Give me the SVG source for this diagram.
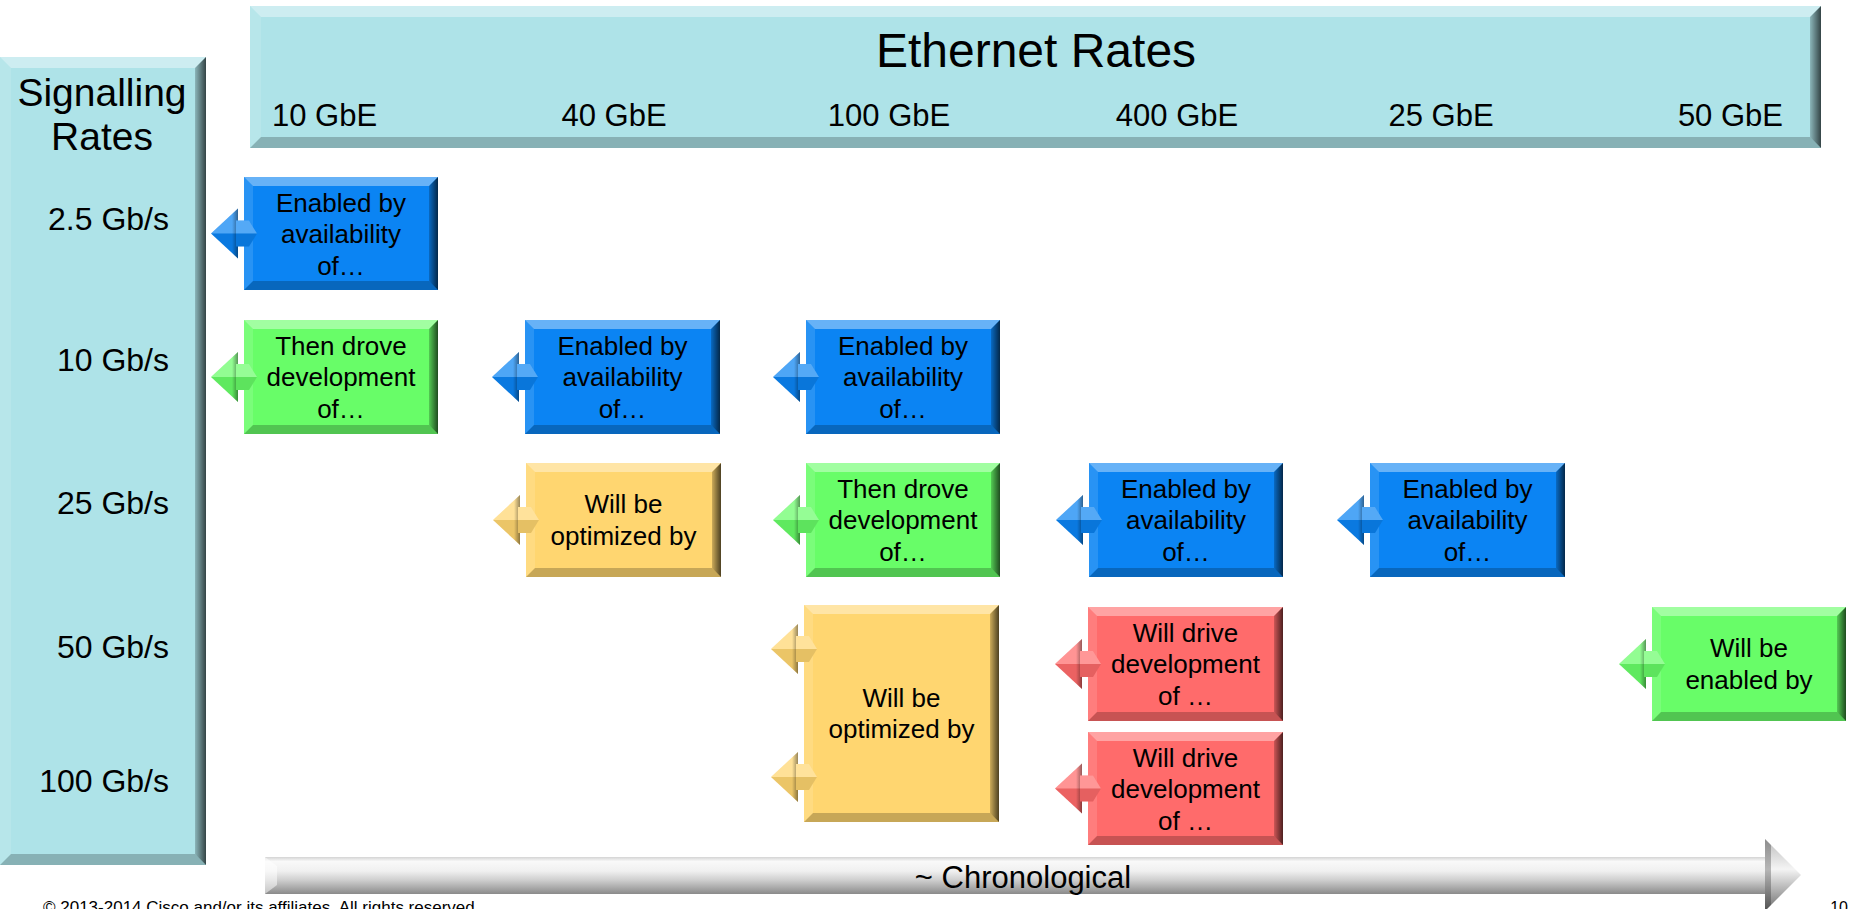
<svg xmlns="http://www.w3.org/2000/svg" xmlns:xlink="http://www.w3.org/1999/xlink" width="1861" height="909" viewBox="0 0 1861 909">
<style>
text { font-family: "Liberation Sans", Arial, sans-serif; fill: #000; }
.bt { fill: #fff; fill-opacity: .38; }
.bl { fill: #fff; fill-opacity: .12; }
.bb { fill: #000; fill-opacity: .22; }
.br { fill: url(#gr); }
.blue { fill: #0B84F3; }
.green { fill: #68FD68; }
.yellow { fill: #FFD670; }
.red { fill: #FF6B6B; }
.cyan { fill: #AEE3E8; }
.bx { font-size: 26px; text-anchor: middle; }
.col { font-size: 31px; }
.row { font-size: 32px; text-anchor: end; }
</style>
<defs>
<linearGradient id="gr" x1="0" y1="0" x2="1" y2="0">
<stop offset="0" stop-color="#000" stop-opacity=".2"/>
<stop offset="1" stop-color="#000" stop-opacity=".7"/>
</linearGradient>
<linearGradient id="gs" x1="0" y1="0" x2="0" y2="1">
<stop offset="0" stop-color="#d4d4d4"/>
<stop offset=".12" stop-color="#f9f9f9"/>
<stop offset=".38" stop-color="#f0f0f0"/>
<stop offset=".62" stop-color="#cfcfcf"/>
<stop offset=".85" stop-color="#a6a6a6"/>
<stop offset="1" stop-color="#8a8a8a"/>
</linearGradient>
<linearGradient id="gh" x1="0" y1="0" x2="0" y2="1">
<stop offset="0" stop-color="#bdbdbd"/>
<stop offset=".42" stop-color="#f4f4f4"/>
<stop offset=".55" stop-color="#d6d6d6"/>
<stop offset="1" stop-color="#6e6e6e"/>
</linearGradient>
<linearGradient id="gd" x1="0" y1="0" x2="1" y2="0">
<stop offset="0" stop-color="#000" stop-opacity="0"/>
<stop offset="1" stop-color="#000" stop-opacity=".4"/>
</linearGradient>
<g id="arr">
<polygon points="-33,0 -6,-25 -6,25" fill="currentColor"/>
<polygon points="-33,0 -6,-25 -6,0" fill="#fff" fill-opacity=".28"/>
<polygon points="-33,0 -6,0 -6,25" fill="#000" fill-opacity=".08"/>
<polygon points="-12,-19.5 -6,-25 -6,25 -12,19.5" fill="url(#gd)"/>
<polygon points="-8,-13 5,-13 13,0 5,13 -8,13" fill="currentColor"/>
<polygon points="-8,-13 5,-13 13,0 -8,0" fill="#fff" fill-opacity=".3"/>
<polygon points="-8,0 13,0 5,13 -8,13" fill="#000" fill-opacity=".1"/>
</g>
</defs>
<rect x="0" y="0" width="1861" height="909" fill="#fff"/>

<g id="signalling">
<rect class="cyan" x="0" y="57" width="206" height="808"/>
<polygon class="bt" points="0,57 206,57 195,68 11,68"/>
<polygon class="bb" points="0,865 206,865 195,854 11,854"/>
<polygon class="bl" points="0,57 11,68 11,854 0,865"/>
<polygon class="br" points="206,57 195,68 195,854 206,865"/>
<text x="102" y="106" font-size="39" text-anchor="middle">Signalling</text>
<text x="102" y="150" font-size="39" text-anchor="middle">Rates</text>
<text class="row" x="169" y="230">2.5 Gb/s</text>
<text class="row" x="169" y="371">10 Gb/s</text>
<text class="row" x="169" y="514">25 Gb/s</text>
<text class="row" x="169" y="658">50 Gb/s</text>
<text class="row" x="169" y="792">100 Gb/s</text>
</g>

<g id="ethernet">
<rect class="cyan" x="250" y="6" width="1571" height="142"/>
<polygon class="bt" points="250,6 1821,6 1810,17 261,17"/>
<polygon class="bb" points="250,148 1821,148 1810,137 261,137"/>
<polygon class="bl" points="250,6 261,17 261,137 250,148"/>
<polygon class="br" points="1821,6 1810,17 1810,137 1821,148"/>
<text x="1036" y="67" font-size="48" text-anchor="middle">Ethernet Rates</text>
<text class="col" x="272" y="126">10 GbE</text>
<text class="col" x="614" y="126" text-anchor="middle">40 GbE</text>
<text class="col" x="889" y="126" text-anchor="middle">100 GbE</text>
<text class="col" x="1177" y="126" text-anchor="middle">400 GbE</text>
<text class="col" x="1441" y="126" text-anchor="middle">25 GbE</text>
<text class="col" x="1783" y="126" text-anchor="end">50 GbE</text>
</g>

<g id="n1">
<rect class="blue" x="244" y="177" width="194" height="113"/>
<polygon class="bt" points="244,177 438,177 429,186 253,186"/>
<polygon class="bb" points="244,290 438,290 429,281 253,281"/>
<polygon class="bl" points="244,177 253,186 253,281 244,290"/>
<polygon class="br" points="438,177 429,186 429,281 438,290"/>
<text class="bx" x="341" y="212">Enabled by</text>
<text class="bx" x="341" y="243">availability</text>
<text class="bx" x="341" y="275">of…</text>
</g>

<g id="n2">
<rect class="green" x="244" y="320" width="194" height="114"/>
<polygon class="bt" points="244,320 438,320 429,329 253,329"/>
<polygon class="bb" points="244,434 438,434 429,425 253,425"/>
<polygon class="bl" points="244,320 253,329 253,425 244,434"/>
<polygon class="br" points="438,320 429,329 429,425 438,434"/>
<text class="bx" x="341" y="355">Then drove</text>
<text class="bx" x="341" y="386">development</text>
<text class="bx" x="341" y="418">of…</text>
</g>

<g id="n3">
<rect class="blue" x="525" y="320" width="195" height="114"/>
<polygon class="bt" points="525,320 720,320 711,329 534,329"/>
<polygon class="bb" points="525,434 720,434 711,425 534,425"/>
<polygon class="bl" points="525,320 534,329 534,425 525,434"/>
<polygon class="br" points="720,320 711,329 711,425 720,434"/>
<text class="bx" x="622.5" y="355">Enabled by</text>
<text class="bx" x="622.5" y="386">availability</text>
<text class="bx" x="622.5" y="418">of…</text>
</g>

<g id="n4">
<rect class="blue" x="806" y="320" width="194" height="114"/>
<polygon class="bt" points="806,320 1000,320 991,329 815,329"/>
<polygon class="bb" points="806,434 1000,434 991,425 815,425"/>
<polygon class="bl" points="806,320 815,329 815,425 806,434"/>
<polygon class="br" points="1000,320 991,329 991,425 1000,434"/>
<text class="bx" x="903" y="355">Enabled by</text>
<text class="bx" x="903" y="386">availability</text>
<text class="bx" x="903" y="418">of…</text>
</g>

<g id="n5">
<rect class="yellow" x="526" y="463" width="195" height="114"/>
<polygon class="bt" points="526,463 721,463 712,472 535,472"/>
<polygon class="bb" points="526,577 721,577 712,568 535,568"/>
<polygon class="bl" points="526,463 535,472 535,568 526,577"/>
<polygon class="br" points="721,463 712,472 712,568 721,577"/>
<text class="bx" x="623.5" y="513">Will be</text>
<text class="bx" x="623.5" y="545">optimized by</text>
</g>

<g id="n6">
<rect class="green" x="806" y="463" width="194" height="114"/>
<polygon class="bt" points="806,463 1000,463 991,472 815,472"/>
<polygon class="bb" points="806,577 1000,577 991,568 815,568"/>
<polygon class="bl" points="806,463 815,472 815,568 806,577"/>
<polygon class="br" points="1000,463 991,472 991,568 1000,577"/>
<text class="bx" x="903" y="498">Then drove</text>
<text class="bx" x="903" y="529">development</text>
<text class="bx" x="903" y="561">of…</text>
</g>

<g id="n7">
<rect class="blue" x="1089" y="463" width="194" height="114"/>
<polygon class="bt" points="1089,463 1283,463 1274,472 1098,472"/>
<polygon class="bb" points="1089,577 1283,577 1274,568 1098,568"/>
<polygon class="bl" points="1089,463 1098,472 1098,568 1089,577"/>
<polygon class="br" points="1283,463 1274,472 1274,568 1283,577"/>
<text class="bx" x="1186" y="498">Enabled by</text>
<text class="bx" x="1186" y="529">availability</text>
<text class="bx" x="1186" y="561">of…</text>
</g>

<g id="n8">
<rect class="blue" x="1370" y="463" width="195" height="114"/>
<polygon class="bt" points="1370,463 1565,463 1556,472 1379,472"/>
<polygon class="bb" points="1370,577 1565,577 1556,568 1379,568"/>
<polygon class="bl" points="1370,463 1379,472 1379,568 1370,577"/>
<polygon class="br" points="1565,463 1556,472 1556,568 1565,577"/>
<text class="bx" x="1467.5" y="498">Enabled by</text>
<text class="bx" x="1467.5" y="529">availability</text>
<text class="bx" x="1467.5" y="561">of…</text>
</g>

<g id="n9">
<rect class="yellow" x="804" y="605" width="195" height="217"/>
<polygon class="bt" points="804,605 999,605 990,614 813,614"/>
<polygon class="bb" points="804,822 999,822 990,813 813,813"/>
<polygon class="bl" points="804,605 813,614 813,813 804,822"/>
<polygon class="br" points="999,605 990,614 990,813 999,822"/>
<text class="bx" x="901.5" y="707">Will be</text>
<text class="bx" x="901.5" y="738">optimized by</text>
</g>

<g id="n10">
<rect class="red" x="1088" y="607" width="195" height="114"/>
<polygon class="bt" points="1088,607 1283,607 1274,616 1097,616"/>
<polygon class="bb" points="1088,721 1283,721 1274,712 1097,712"/>
<polygon class="bl" points="1088,607 1097,616 1097,712 1088,721"/>
<polygon class="br" points="1283,607 1274,616 1274,712 1283,721"/>
<text class="bx" x="1185.5" y="642">Will drive</text>
<text class="bx" x="1185.5" y="673">development</text>
<text class="bx" x="1185.5" y="705">of …</text>
</g>

<g id="n11">
<rect class="red" x="1088" y="732" width="195" height="113"/>
<polygon class="bt" points="1088,732 1283,732 1274,741 1097,741"/>
<polygon class="bb" points="1088,845 1283,845 1274,836 1097,836"/>
<polygon class="bl" points="1088,732 1097,741 1097,836 1088,845"/>
<polygon class="br" points="1283,732 1274,741 1274,836 1283,845"/>
<text class="bx" x="1185.5" y="767">Will drive</text>
<text class="bx" x="1185.5" y="798">development</text>
<text class="bx" x="1185.5" y="830">of …</text>
</g>

<g id="n12">
<rect class="green" x="1652" y="607" width="194" height="114"/>
<polygon class="bt" points="1652,607 1846,607 1837,616 1661,616"/>
<polygon class="bb" points="1652,721 1846,721 1837,712 1661,712"/>
<polygon class="bl" points="1652,607 1661,616 1661,712 1652,721"/>
<polygon class="br" points="1846,607 1837,616 1837,712 1846,721"/>
<text class="bx" x="1749" y="657">Will be</text>
<text class="bx" x="1749" y="689">enabled by</text>
</g>

<g id="connectors">
<use xlink:href="#arr" x="244" y="233.5" color="#0B84F3"/>
<use xlink:href="#arr" x="244" y="377" color="#68FD68"/>
<use xlink:href="#arr" x="525" y="377" color="#0B84F3"/>
<use xlink:href="#arr" x="806" y="377" color="#0B84F3"/>
<use xlink:href="#arr" x="526" y="520" color="#FFD670"/>
<use xlink:href="#arr" x="806" y="520" color="#68FD68"/>
<use xlink:href="#arr" x="1089" y="520" color="#0B84F3"/>
<use xlink:href="#arr" x="1370" y="520" color="#0B84F3"/>
<use xlink:href="#arr" x="804" y="649" color="#FFD670"/>
<use xlink:href="#arr" x="804" y="777" color="#FFD670"/>
<use xlink:href="#arr" x="1088" y="664" color="#FF6B6B"/>
<use xlink:href="#arr" x="1088" y="788.5" color="#FF6B6B"/>
<use xlink:href="#arr" x="1652" y="664" color="#68FD68"/>
</g>

<g id="chronological">
<rect x="265" y="857" width="1502" height="37" fill="url(#gs)"/>
<polygon points="265,857 277,866 277,885 265,894" fill="#fff" fill-opacity=".5"/>
<polygon points="1765,839 1801,875 1765,911" fill="url(#gh)"/>
<polygon points="1765,839 1771,845 1771,905 1765,911" fill="#000" fill-opacity=".25"/>
<text x="1023" y="888" font-size="31" text-anchor="middle">~ Chronological</text>
</g>

<g id="footer">
<text x="43" y="913" font-size="17">© 2013-2014  Cisco and/or its affiliates. All rights reserved.</text>
<text x="1848" y="913" font-size="16" text-anchor="end">10</text>
</g>
</svg>
